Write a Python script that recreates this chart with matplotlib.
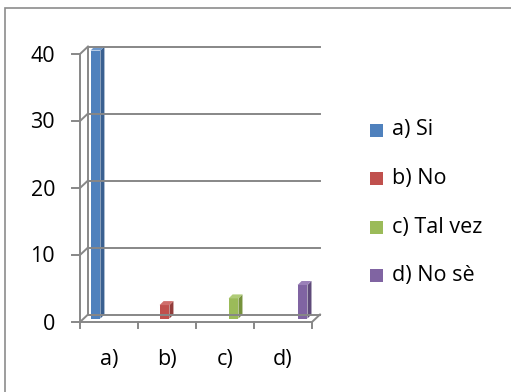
import matplotlib
matplotlib.use('Agg')
import matplotlib.pyplot as plt
from matplotlib.patches import Polygon, Rectangle
from matplotlib.transforms import IdentityTransform

categories = ['a)', 'b)', 'c)', 'd)']
series = ['a) Si', 'b) No', 'c) Tal vez', 'd) No sè']
values = [40, 2, 3, 5]
yticks = [0, 10, 20, 30, 40]

front = ['#4F81BD', '#C0504D', '#9BBB59', '#8064A2']
side = ['#3A6090', '#923C3A', '#76923C', '#5F4B7A']
top = ['#6E98CC', '#CF6E6B', '#B0CC78', '#9A80B8']
grid_c = '#878787'

plt.rcParams['font.family'] = ['Open Sans', 'DejaVu Sans']
plt.rcParams['font.size'] = 15.5

W, H = 511, 392
fig = plt.figure(figsize=(W/100, H/100), dpi=100)
ax = fig.add_axes([80/W, 70/H, 232/W, 268/H])
ax.set_xlim(0, 4)
ax.set_ylim(0, 40)
ax.axis('off')

# wall depth in pixels
DX, DY = 8, 7.5

def px(x, y, dx=0, dy=0):
  X, Y = ax.transData.transform((x, y))
  return X + dx, Y + dy

def seg(pts, **kw):
  xs, ys = zip(*pts)
  ax.plot(xs, ys, transform=IdentityTransform(), clip_on=False, **kw)

lw = 1.4
# back wall gridlines and left wall edge
for v in yticks:
  seg([px(0, v, DX, DY), px(4, v, DX, DY)], color=grid_c, lw=lw)
seg([px(0, 0, DX, DY), px(0, 40, DX, DY)], color=grid_c, lw=lw)

# floor
seg([px(0, 0), px(4, 0), px(4, 0, DX, DY)], color=grid_c, lw=lw)

# value axis with 3D tick stubs
seg([px(0, 0), px(0, 40)], color=grid_c, lw=lw)
for v in yticks:
  seg([px(0, v, -8, 0), px(0, v), px(0, v, DX, DY)], color=grid_c, lw=lw)
  X, Y = px(0, v, -25, -2)
  ax.text(X, Y, str(v), transform=IdentityTransform(), ha='right', va='center')

# category ticks and labels
for i in range(len(categories) + 1):
  seg([px(i, 0), px(i, 0, 0, -6)], color=grid_c, lw=lw)
for i, c in enumerate(categories):
  X, Y = px(i + 0.5, 0, 0, -37)
  ax.text(X, Y, c, transform=IdentityTransform(), ha='center', va='center')

# bars: one series per category, clustered positions
bw, step, start = 0.17, 0.19, 0.224
fx, fy = 2.5, 3.5   # front face shift into the depth
bx, by = 4, 4       # bar depth
for j, v in enumerate(values):
  c = j + start + step * j
  x0, x1 = c - bw/2, c + bw/2
  a = px(x0, 0, fx, fy); b = px(x1, 0, fx, fy)
  d = px(x0, v, fx, fy); e = px(x1, v, fx, fy)
  ax.add_patch(Polygon([a, b, e, d], closed=True, fc=front[j], ec='none',
                       transform=IdentityTransform(), clip_on=False))
  ax.add_patch(Polygon([b, (b[0]+bx, b[1]+by), (e[0]+bx, e[1]+by), e], closed=True,
                       fc=side[j], ec='none', transform=IdentityTransform(), clip_on=False))
  ax.add_patch(Polygon([d, e, (e[0]+bx, e[1]+by), (d[0]+bx, d[1]+by)], closed=True,
                       fc=top[j], ec='none', transform=IdentityTransform(), clip_on=False))

# legend, drawn by hand in figure pixels
for j, name in enumerate(series):
  yc = H - (130 + 48.5 * j)
  fig.add_artist(Rectangle((370/W, (yc - 6.5)/H), 13/W, 13/H, transform=fig.transFigure,
                           fc=front[j], ec='none'))
  fig.text(392/W, yc/H, name, ha='left', va='center')

# chart area border
fig.add_artist(Rectangle((5/W, -0.1), 2, (H - 8)/H + 0.1, transform=fig.transFigure,
                         fill=False, ec='#8C8C8C', lw=1.2))

fig.savefig('out.png', dpi=100)
